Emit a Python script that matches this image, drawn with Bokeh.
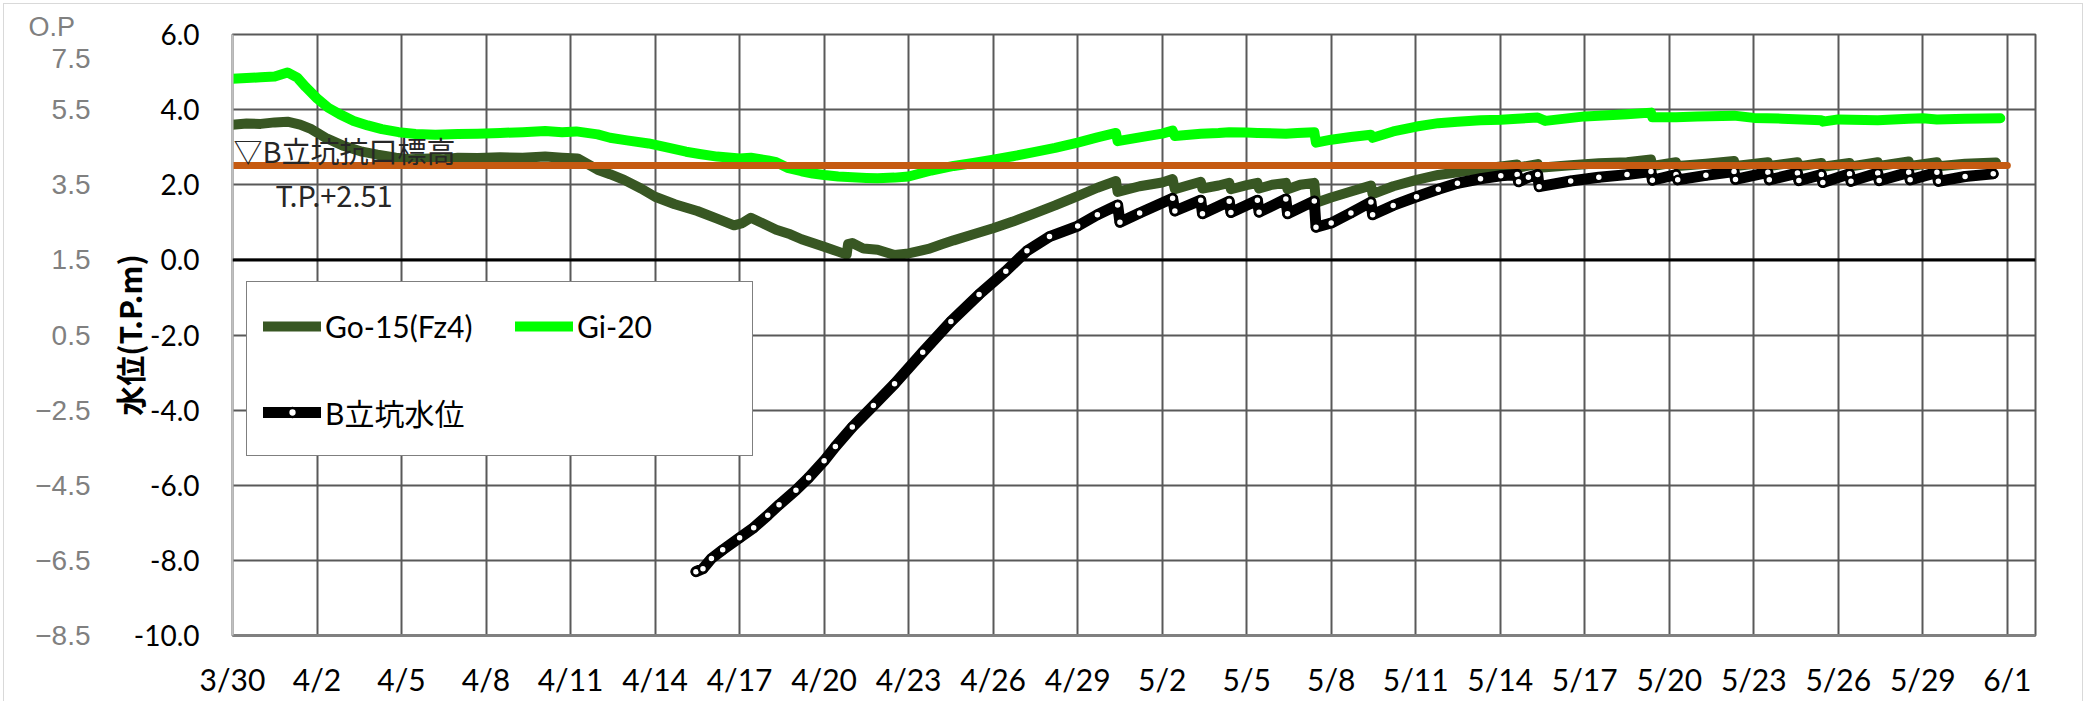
from bokeh.plotting import figure
from bokeh.models import Range1d, LinearAxis, FixedTicker, Span, Label, Legend, LegendItem, NumeralTickFormatter
from bokeh.embed import file_html
from bokeh.resources import INLINE

# ---------------- data ----------------
# x = days elapsed since 3/30 00:00
x_tick_days = list(range(0, 64, 3))
x_tick_labels = ["3/30", "4/2", "4/5", "4/8", "4/11", "4/14", "4/17", "4/20", "4/23", "4/26",
                 "4/29", "5/2", "5/5", "5/8", "5/11", "5/14", "5/17", "5/20", "5/23", "5/26",
                 "5/29", "6/1"]
y_ticks = [-10, -8, -6, -4, -2, 0, 2, 4, 6]
op_tick_pos = [5.35, 4, 2, 0, -2, -4, -6, -8, -10]
op_tick_labels = ["7.5", "5.5", "3.5", "1.5", "0.5", "\u22122.5", "\u22124.5", "\u22126.5", "\u22128.5"]

go15_day = [0.0, 0.5, 1.0, 1.5, 1.95, 2.4, 2.8, 3.3, 3.96, 4.6, 5.15, 5.8, 6.3, 7.0, 7.5, 8.0, 8.7,
            9.5, 10.3, 11.1, 11.7, 12.25, 12.96, 13.4, 13.9, 14.5, 15.0, 15.7, 16.5, 17.2, 17.8,
            18.1, 18.4, 18.8, 19.3, 19.8, 20.2, 20.6, 21.0, 21.5, 21.8, 21.85, 22.0, 22.4, 22.9,
            23.5, 24.0, 24.7, 25.2, 25.6, 26.3, 27.0, 27.7, 28.4, 29.2, 30.0, 30.7, 31.36, 31.42,
            32.2, 33.0, 33.37, 33.45, 33.9, 34.37, 34.43, 35.0, 35.38, 35.44, 36.0, 36.38, 36.44,
            36.9, 37.39, 37.45, 37.9, 38.40, 38.46, 39.0, 39.7, 40.41, 40.47, 41.2, 42.03, 42.8,
            43.48, 44.3, 45.02, 45.6, 45.65, 46.33, 46.38, 47.5, 48.5, 49.5, 50.35, 50.4, 51.24,
            51.3, 52.3, 53.3, 53.35, 54.5, 54.55, 55.55, 55.6, 56.4, 56.45, 57.4, 57.45, 58.4,
            58.45, 59.5, 59.55, 60.5, 60.55, 61.5, 62.6]
go15_val = [3.60, 3.63, 3.62, 3.66, 3.68, 3.60, 3.48, 3.25, 3.03, 2.88, 2.80, 2.72, 2.68, 2.70, 2.68,
            2.72, 2.71, 2.73, 2.72, 2.75, 2.72, 2.70, 2.40, 2.28, 2.13, 1.90, 1.68, 1.48, 1.30, 1.10,
            0.92, 0.98, 1.12, 0.98, 0.80, 0.68, 0.55, 0.45, 0.35, 0.22, 0.14, 0.42, 0.45, 0.30, 0.27,
            0.13, 0.17, 0.29, 0.42, 0.52, 0.68, 0.84, 1.02, 1.22, 1.45, 1.70, 1.92, 2.10, 1.81,
            1.96, 2.06, 2.15, 1.88, 1.98, 2.08, 1.90, 1.98, 2.05, 1.88, 1.99, 2.05, 1.90,
            2.00, 2.05, 1.88, 2.00, 2.05, 1.52, 1.66, 1.82, 1.98, 1.75, 1.96, 2.13, 2.26,
            2.33, 2.42, 2.49, 2.54, 2.46, 2.55, 2.45, 2.52, 2.57, 2.60, 2.67, 2.50, 2.60,
            2.50, 2.56, 2.63, 2.50, 2.60, 2.50, 2.60, 2.49, 2.58, 2.48, 2.58, 2.49, 2.60,
            2.50, 2.62, 2.50, 2.60, 2.49, 2.56, 2.59]

gi20_day = [0.0, 0.5, 1.0, 1.5, 1.95, 2.3, 2.6, 3.0, 3.4, 3.8, 4.3, 4.8, 5.3, 5.9, 6.5, 7.2, 8.0, 8.7,
            9.5, 10.3, 11.1, 11.7, 12.2, 12.96, 13.4, 14.0, 14.77, 15.5, 16.1, 16.58, 17.2, 18.0,
            18.4, 19.0, 19.3, 19.7, 20.2, 20.6, 21.0, 21.5, 22.0, 22.5, 22.9, 23.5, 24.0, 24.8,
            25.6, 26.3, 27.0, 27.7, 28.4, 29.2, 30.0, 30.7, 31.36, 31.42, 32.2, 33.0, 33.37, 33.45,
            34.37, 35.0, 35.38, 36.0, 36.38, 37.39, 37.8, 38.40, 38.46, 39.0, 39.7, 40.41, 40.47,
            41.2, 42.03, 42.8, 43.48, 44.3, 45.02, 45.6, 46.33, 46.6, 47.3, 48.0, 49.0, 49.5,
            50.35, 50.4, 51.24, 52.0, 53.3, 54.0, 55.0, 56.4, 56.45, 57.0, 58.4, 59.5, 60.0, 60.5,
            61.5, 62.75]
gi20_val = [4.82, 4.84, 4.86, 4.88, 4.99, 4.85, 4.60, 4.30, 4.05, 3.88, 3.70, 3.58, 3.48, 3.40, 3.35,
            3.33, 3.35, 3.36, 3.38, 3.40, 3.43, 3.40, 3.42, 3.34, 3.25, 3.18, 3.10, 2.98, 2.88, 2.82,
            2.75, 2.70, 2.72, 2.65, 2.60, 2.45, 2.36, 2.30, 2.26, 2.22, 2.20, 2.18, 2.17, 2.19, 2.22,
            2.38, 2.50, 2.58, 2.67, 2.76, 2.86, 2.98, 3.12, 3.26, 3.38, 3.16, 3.26, 3.36, 3.44, 3.30,
            3.36, 3.38, 3.40, 3.39, 3.38, 3.36, 3.38, 3.40, 3.12, 3.20, 3.27, 3.33, 3.25,
            3.42, 3.55, 3.64, 3.68, 3.72, 3.73, 3.76, 3.79, 3.70, 3.76, 3.82, 3.86, 3.88,
            3.92, 3.80, 3.80, 3.82, 3.84, 3.78, 3.76, 3.72, 3.68, 3.74, 3.72, 3.76, 3.77, 3.74,
            3.76, 3.77]

bshaft_day = [16.45, 16.7, 17.0, 17.4, 18.0, 18.5, 19.0, 19.4, 20.0, 20.45, 21.0, 21.4, 22.0, 22.75,
              23.5, 24.5, 25.5, 26.5, 27.45, 28.2, 29.0, 30.0, 30.7, 31.42, 31.5, 32.2, 33.37, 33.45,
              34.37, 34.43, 35.38, 35.44, 36.38, 36.44, 37.39, 37.45, 38.40, 38.46, 39.0, 39.7,
              40.41, 40.47, 41.2, 42.03, 42.8, 43.48, 44.3, 45.02, 45.6, 45.65, 46.0, 46.33, 46.38,
              47.5, 48.5, 49.5, 50.35, 50.4, 51.24, 51.3, 52.3, 53.3, 53.35, 54.5, 54.55, 55.55,
              55.6, 56.4, 56.45, 57.4, 57.45, 58.4, 58.45, 59.5, 59.55, 60.5, 60.55, 61.5, 62.5]
bshaft_val = [-8.30, -8.22, -7.95, -7.72, -7.40, -7.13, -6.80, -6.52, -6.13, -5.80, -5.35, -4.97,
              -4.45, -3.88, -3.30, -2.46, -1.64, -0.92, -0.30, 0.24, 0.62, 0.90, 1.20, 1.46, 1.00,
              1.25, 1.64, 1.30, 1.59, 1.23, 1.56, 1.26, 1.59, 1.27, 1.62, 1.23, 1.57, 0.87, 0.98,
              1.25, 1.54, 1.20, 1.45, 1.68, 1.88, 2.04, 2.16, 2.24, 2.27, 2.08, 2.20, 2.27, 1.95,
              2.10, 2.20, 2.27, 2.35, 2.12, 2.27, 2.13, 2.25, 2.35, 2.14, 2.33, 2.13, 2.31,
              2.11, 2.27, 2.06, 2.29, 2.09, 2.31, 2.11, 2.33, 2.13, 2.33, 2.09, 2.22, 2.29]

collar_day = [0, 63]
collar_val = [2.51, 2.51]

# ---------------- figure ----------------
p = figure(width=2078, height=697, x_range=Range1d(0, 64), y_range=Range1d(-10, 6),
           output_backend="svg", toolbar_location=None,
           min_border_left=228, min_border_right=47, min_border_top=30, min_border_bottom=66)
p.margin = (4, 0, 0, 4)
p.styles = {"outline": "1px solid #d9d9d9"}
p.title.text = "O.P"
p.title.text_font = "Liberation Sans"
p.title.text_font_size = "27px"
p.title.text_font_style = "normal"
p.title.text_color = "#808080"
p.title.align = "left"
p.title.offset = -204
p.title.standoff = -15
p.background_fill_color = "white"
p.border_fill_color = "white"
p.outline_line_color = "#595959"
p.outline_line_width = 2

# x axis
p.xaxis.ticker = FixedTicker(ticks=x_tick_days)
p.xaxis.major_label_overrides = {d: l for d, l in zip(x_tick_days, x_tick_labels)}
p.xaxis.major_label_text_font = "Lato"
p.xaxis.major_label_text_font_size = "30px"
p.xaxis.major_label_text_color = "black"
p.xaxis.major_tick_line_color = None
p.xaxis.minor_tick_line_color = None
p.xaxis.major_tick_out = 0
p.xaxis.axis_line_color = "#808080"
p.xaxis.axis_line_width = 3
p.xaxis.major_label_standoff = 25

# primary y axis
p.yaxis.ticker = FixedTicker(ticks=y_ticks)
p.yaxis.formatter = NumeralTickFormatter(format="0.0")
p.yaxis.major_label_text_font = "Lato"
p.yaxis.major_label_text_font_size = "28px"
p.yaxis.major_label_text_color = "black"
p.yaxis.major_tick_line_color = None
p.yaxis.minor_tick_line_color = None
p.yaxis.major_tick_out = 0
p.yaxis.axis_line_color = "#c0c0c0"
p.yaxis.axis_line_width = 2
p.yaxis.major_label_standoff = 33
p.yaxis.axis_label = "水位(T.P.m)"
p.yaxis.axis_label_text_font = "Noto Sans CJK JP"
p.yaxis.axis_label_text_font_style = "bold"
p.yaxis.axis_label_text_font_size = "30px"
p.yaxis.axis_label_text_color = "black"
p.yaxis.axis_label_standoff = -20

# secondary (O.P) axis
ax2 = LinearAxis(ticker=FixedTicker(ticks=op_tick_pos),
                 major_label_overrides={t: l for t, l in zip(op_tick_pos, op_tick_labels)},
                 axis_line_color=None, major_tick_line_color=None, minor_tick_line_color=None,
                 major_tick_out=0, major_label_text_color="#808080",
                 major_label_text_font="Liberation Sans", major_label_text_font_size="28px",
                 major_label_standoff=13)
p.add_layout(ax2, "left")

# grids
p.xgrid.ticker = FixedTicker(ticks=x_tick_days)
p.ygrid.ticker = FixedTicker(ticks=y_ticks)
for g in (p.xgrid, p.ygrid):
    g.grid_line_color = "#595959"
    g.grid_line_width = 2

p.add_layout(Span(location=0, dimension="width", line_color="black", line_width=3))

# series
r_go = p.line(go15_day, go15_val, line_color="#385723", line_width=10, line_join="round", line_cap="round")
r_gi = p.line(gi20_day, gi20_val, line_color="#00FF00", line_width=10, line_join="round", line_cap="round")
r_b = p.line(bshaft_day, bshaft_val, line_color="black", line_width=11, line_join="round", line_cap="round")
r_bm = p.scatter(bshaft_day, bshaft_val, marker="circle", size=8, fill_color="white",
                 line_color="black", line_width=2.5)
p.line(collar_day, collar_val, line_color="#C55A11", line_width=7, line_cap="round")

# annotation texts
p.add_layout(Label(x=0, y=2.51, text="▽B立坑抗口標高", x_offset=1, y_offset=16,
                   text_font="Noto Sans CJK JP", text_font_size="29px", text_color="#262626",
                   text_baseline="alphabetic", text_align="left"))
p.add_layout(Label(x=0, y=2.51, text="T.P.+2.51", x_offset=43, y_offset=-28,
                   text_font="Noto Sans CJK JP", text_font_size="29px", text_color="#262626",
                   text_baseline="alphabetic", text_align="left"))

# legend
legend = Legend(items=[LegendItem(label="Go-15(Fz4)", renderers=[r_go]),
                       LegendItem(label="Gi-20", renderers=[r_gi]),
                       LegendItem(label="B立坑水位", renderers=[r_b, r_bm])],
                location=(14, 179), orientation="horizontal", ncols=2,
                label_text_font="Lato, 'Noto Sans CJK JP'", label_text_font_size="30px",
                label_text_color="black", glyph_width=58, glyph_height=22, label_height=55,
                label_width=159, label_standoff=4, spacing=31, padding=16, margin=0,
                border_line_color="black", border_line_width=1.5,
                background_fill_color="white", background_fill_alpha=1.0)
p.add_layout(legend)

open("out.html", "w").write(file_html(p, INLINE))
